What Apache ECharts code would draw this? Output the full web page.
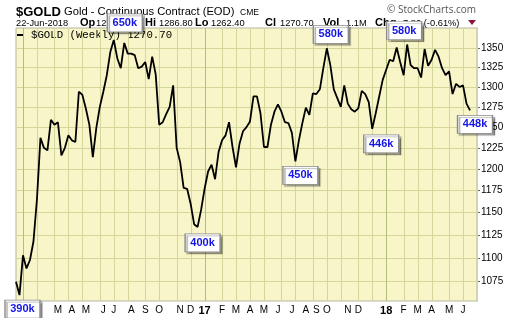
<!DOCTYPE html>
<html><head><meta charset="utf-8">
<script src="https://cdn.jsdelivr.net/npm/echarts@6/dist/echarts.min.js"></script>
<style>html,body{margin:0;padding:0;background:#fff}#c{width:520px;height:318px}</style>
</head><body><div id="c"></div>
<script>
// Weekly closes of $GOLD, 25-Dec-2015 .. 22-Jun-2018
const closes = [
 1075,1061,1103,1089,1098,1118,1165,1237,1225,1222,
 1259,1253,1256,1216,1225,1240,1234,1232,1294,1290,
 1273,1253,1214,1249,1275,1294,1315,1345,1361,1337,
 1324,1357,1343,1343,1341,1324,1326,1332,1310,1339,
 1316,1253,1256,1266,1275,1302,1225,1208,1178,1177,
 1160,1137,1134,1153,1177,1197,1205,1188,1220,1234,
 1240,1256,1226,1202,1230,1245,1250,1257,1288,1288,
 1267,1226,1226,1253,1269,1278,1269,1256,1255,1243,
 1209,1234,1255,1274,1265,1292,1291,1297,1324,1350,
 1328,1297,1286,1275,1302,1279,1272,1269,1273,1295,
 1291,1281,1248,1267,1288,1309,1322,1335,1333,1351,
 1332,1315,1355,1328,1324,1324,1312,1349,1327,1335,
 1348,1339,1324,1315,1320,1291,1304,1300,1302,1279,
 1270.7
];
// Weekly categories (Fridays), plus two empty weeks of right padding
const weeks = [];
for (let i = 0; i < closes.length + 2; i++) {
  const d = new Date(Date.UTC(2015, 11, 25 + 7 * i));
  weeks.push(d.toISOString().slice(0, 10));
}
// Y tick labels
const yTicks = [1075,1100,1125,1150,1175,1200,1225,1250,1275,1300,1325,1350];
// X tick labels and the week index each is shown at
const xTickText = ['M','A','M','J','J','A','S','O','N','D','17','F','M','A','M','J','J','A','S','O','N','D','18','F','M','A','M','J'];
const xTickIdx  = [12,16,20,25,28,33,37,41,47,50,54,59,63,67,71,75,79,83,86,89,95,98,106,111,115,119,124,128];
// Volume annotations
const volText = ['390k','650k','400k','450k','580k','446k','580k','448k'];
const volIdx  = [1,28,52,80,89,102,112,130];
// annotation box offsets (layout only)
const volOffset = [[3,14],[11,-17],[5,16],[5,14],[4,-14],[9,15],[-3,-14],[5,14]];

const dayOf = i => +weeks[i].slice(8, 10);
const monOf = i => +weeks[i].slice(5, 7);
const isMonthLine = i => { const d = dayOf(i); return d >= 5 && d <= 11; };
const isYearLine = i => isMonthLine(i) && monOf(i) === 1;
const monthLineIdx = weeks.map((w, i) => i).filter(isMonthLine);
const labelMap = new Map(xTickIdx.map((v, k) => [v, xTickText[k]]));

const F = '"Liberation Sans", Arial, sans-serif';
const T = (x, y, text, font, fill) => ({type:'text', x, y, z:1,
  style:{text, font, fill: fill || '#000', verticalAlign:'middle', align:'left'}});

const chart = echarts.init(document.getElementById('c'), null, {renderer:'canvas'});
chart.setOption({
  animation: false,
  backgroundColor: '#fff',
  grid: {left:16, right:43, top:28, bottom:17, show:true, backgroundColor:'#f8f6c9', borderColor:'#b5b5a0', borderWidth:1},
  xAxis: {
    type:'category', data: weeks, boundaryGap:false, position:'bottom',
    axisLine:{show:false}, axisTick:{show:false},
    axisLabel:{show:true, interval:(i)=>labelMap.has(i), margin:4,
      formatter:(v, i)=>{ const t = labelMap.get(i) || ''; return t.length === 2 ? '{b|' + t + '}' : t; },
      fontSize:10, fontFamily:F, color:'#000',
      rich:{b:{fontSize:11, fontWeight:'bold', fontFamily:F, color:'#000'}}},
    splitLine:{show:false}
  },
  yAxis: {
    type:'log', logBase:10, min:1054.9, max:1377, position:'right',
    axisLine:{show:true, lineStyle:{color:'#999', type:'dotted'}},
    axisTick:{show:true, customValues: yTicks, length:3, lineStyle:{color:'#666'}},
    axisLabel:{show:true, customValues: yTicks, margin:4, fontSize:10, fontFamily:F, color:'#000',
      formatter:(v)=>String(Math.round(v))},
    splitLine:{show:true, lineStyle:{color:'#d3d79c', width:1}},
    minorTick:{show:false}, minorSplitLine:{show:false}
  },
  series: [{
    type:'custom', name:'monthGrid', silent:true, z:1, clip:false,
    data: monthLineIdx.map(i => [i, 1200]),
    encode:{x:0, y:1},
    renderItem: (params, api) => {
      const idx = api.value(0);
      const x = Math.round(api.coord([idx, 1200])[0]) + 0.5;
      const cs = params.coordSys;
      return {type:'line', shape:{x1:x, y1:cs.y, x2:x, y2:cs.y + cs.height},
        style:{stroke: isYearLine(idx) ? '#b3be78' : '#d3d79c', lineWidth:1}};
    }
  },{
    type:'line', name:'$GOLD', data: closes,
    symbol:'none', lineStyle:{color:'#000', width:1.8}, z:3,
    markPoint: {
      z: 10,
      symbol:'rect', symbolSize:[35,18],
      itemStyle:{color:'#fff', borderColor:'#8a8a8a', borderWidth:1, shadowColor:'rgba(0,0,0,0.35)', shadowOffsetX:2, shadowOffsetY:2, shadowBlur:1},
      label:{show:true, position:'inside', color:'#1414e6', fontWeight:'bold', fontSize:11, fontFamily:F},
      data: volIdx.map((ix, k) => ({coord:[ix, closes[ix]], symbolOffset: volOffset[k], label:{formatter: volText[k]}}))
    }
  }],
  graphic: [
    T(16, 12, '$GOLD', 'bold 13px ' + F),
    T(64, 12, 'Gold - Continuous Contract (EOD)', '11.2px ' + F),
    T(240, 13, 'CME', '8.5px ' + F),
    T(387, 10, '\u00A9 StockCharts.com', '10px "Open Sans", sans-serif', '#555'),
    T(16, 23, '22-Jun-2018', '9.3px ' + F),
    T(80, 23, 'Op', 'bold 11px ' + F), T(96, 23, '1277.60', '9.3px ' + F),
    T(145, 23, 'Hi', 'bold 11px ' + F), T(159, 23, '1286.80', '9.3px ' + F),
    T(195, 23, 'Lo', 'bold 11px ' + F), T(211, 23, '1262.40', '9.3px ' + F),
    T(265, 23, 'Cl', 'bold 11px ' + F), T(280, 23, '1270.70', '9.3px ' + F),
    T(323, 23, 'Vol', 'bold 11px ' + F), T(346, 23, '1.1M', '9.3px ' + F),
    T(375, 23, 'Chg', 'bold 11px ' + F), T(400, 23, '-7.80 (-0.61%)', '9.3px ' + F),
    {type:'polygon', z:1, shape:{points:[[468,20],[476,20],[472,25]]}, style:{fill:'#8b1538'}},
    {type:'rect', z:1, shape:{x:17, y:34, width:7, height:2}, style:{fill:'#000'}},
    T(31, 35.5, '$GOLD (Weekly) 1270.70', '10.7px "Liberation Mono", monospace')
  ]
});
</script></body></html>
